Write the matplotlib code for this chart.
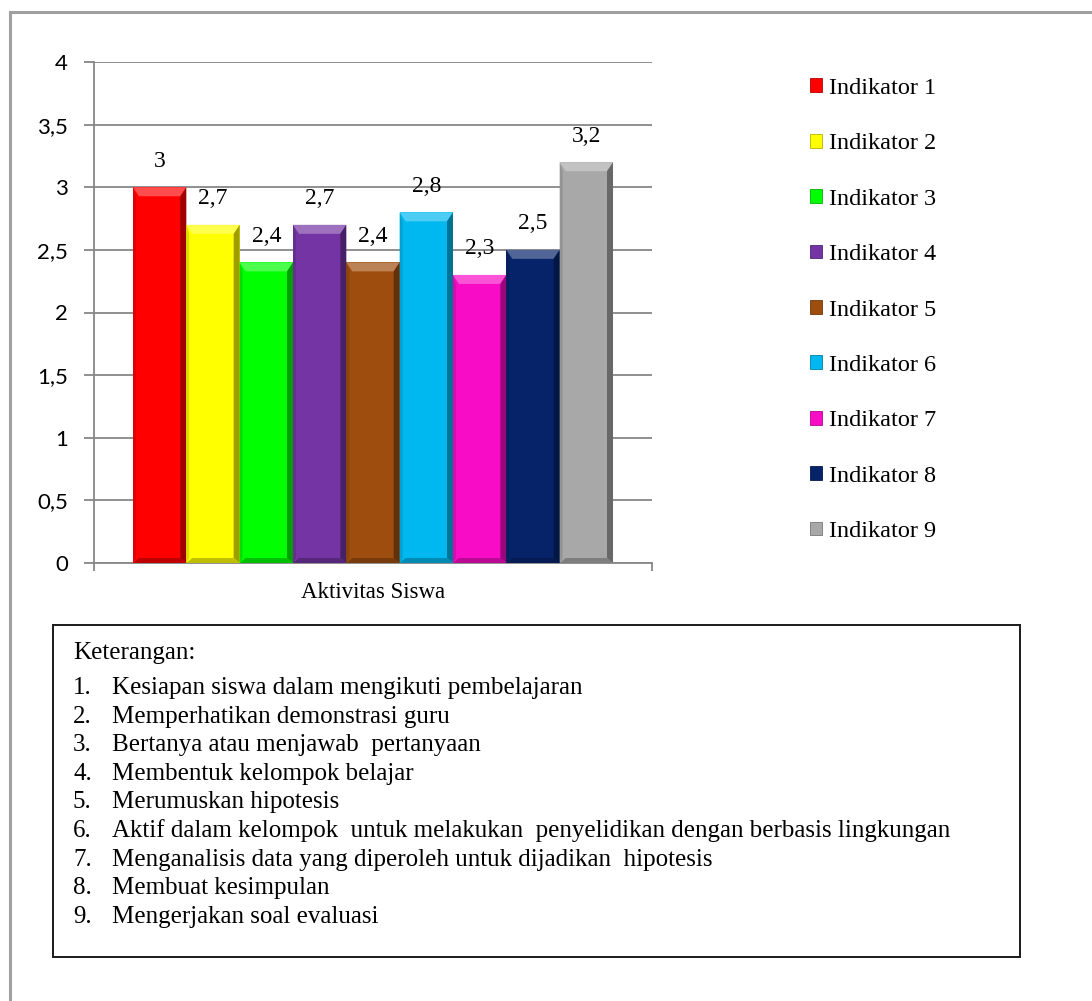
import matplotlib
matplotlib.use("Agg")
import matplotlib.pyplot as plt
from matplotlib.patches import Polygon, Rectangle
from matplotlib.lines import Line2D
from matplotlib.colors import to_rgb

# ---- data ----
indicators = ["Indikator 1", "Indikator 2", "Indikator 3", "Indikator 4", "Indikator 5",
              "Indikator 6", "Indikator 7", "Indikator 8", "Indikator 9"]
scores = [3.0, 2.7, 2.4, 2.7, 2.4, 2.8, 2.3, 2.5, 3.2]
colors = ["#FF0000", "#FFFF00", "#00FF00", "#7434A3", "#9E4D0E",
          "#00B8F0", "#F80CC6", "#06236A", "#A8A8A8"]
category = "Aktivitas Siswa"
yticks = [0, 0.5, 1, 1.5, 2, 2.5, 3, 3.5, 4]
ytick_labels = ["0", "0,5", "1", "1,5", "2", "2,5", "3", "3,5", "4"]
note_title = "Keterangan:"
notes = [
    "Kesiapan siswa dalam mengikuti pembelajaran",
    "Memperhatikan demonstrasi guru",
    "Bertanya atau menjawab  pertanyaan",
    "Membentuk kelompok belajar",
    "Merumuskan hipotesis",
    "Aktif dalam kelompok  untuk melakukan  penyelidikan dengan berbasis lingkungan",
    "Menganalisis data yang diperoleh untuk dijadikan  hipotesis",
    "Membuat kesimpulan",
    "Mengerjakan soal evaluasi",
]

W, H = 1092, 1001
SERIF = "Liberation Serif"
SANS = "Lato"
GRID = "#878787"

fig = plt.figure(figsize=(W / 100, H / 100), dpi=100)
fig.patch.set_facecolor("white")


def fx(px):
    return px / W


def fy(py):
    return 1 - py / H


# plot area
ax_l, ax_r, ax_t, ax_b = 94, 652, 62, 563
ax = fig.add_axes([fx(ax_l), fy(ax_b), fx(ax_r - ax_l), (ax_b - ax_t) / H])

n = len(scores)
xs = list(range(n))
margin = 0.731
ax.set_xlim(-0.5 - margin, n - 0.5 + margin)
ax.set_ylim(0, 4)

bars = ax.bar(xs, scores, width=1.0, color=colors, edgecolor="none", zorder=3)

# pixel size in data units, for the bevel shading
fig.canvas.draw()
bb = ax.get_window_extent()
x0, x1 = ax.get_xlim()
y0, y1 = ax.get_ylim()
px = (x1 - x0) / bb.width
py = (y1 - y0) / bb.height


def mix(c, other, f):
    r = to_rgb(c)
    o = to_rgb(other)
    return tuple(r[i] * (1 - f) + o[i] * f for i in range(3))


for rect, c in zip(bars, colors):
    left = rect.get_x()
    right = left + rect.get_width()
    h = rect.get_height()
    t = 9 * py
    s = 6 * px
    b = 5 * py
    # top bevel (lit)
    ax.add_patch(Polygon([(left, h), (right, h), (right - s, h - t), (left + s, h - t)],
                         closed=True, facecolor=mix(c, "white", 0.30), edgecolor="none", zorder=4))
    # right side (shaded)
    ax.add_patch(Polygon([(right, h), (right - s, h - t), (right - s, b), (right, 0)],
                         closed=True, facecolor=mix(c, "black", 0.38), edgecolor="none", zorder=4))
    # left side
    ax.add_patch(Polygon([(left, h), (left + 0.5 * s, h - t), (left + 0.5 * s, b), (left, 0)],
                         closed=True, facecolor=mix(c, "black", 0.12), edgecolor="none", zorder=4))
    # bottom edge
    ax.add_patch(Polygon([(left, 0), (right, 0), (right - s, b), (left + s, b)],
                         closed=True, facecolor=mix(c, "black", 0.25), edgecolor="none", zorder=4))

# value labels
for x, v in zip(xs, scores):
    txt = ("%g" % v).replace(".", ",")
    ax.annotate(txt, (x, v), xytext=(0, 26 * 0.72), textcoords="offset points",
                ha="center", va="center", fontsize=17, family=SERIF, zorder=6)

# axes styling
for side in ("top", "right"):
    ax.spines[side].set_visible(False)
for side in ("left", "bottom"):
    ax.spines[side].set_color(GRID)
    ax.spines[side].set_linewidth(1.3)
ax.set_yticks(yticks)
ax.set_yticklabels(ytick_labels, family=SANS, fontsize=16)
ax.tick_params(axis="y", length=7.2, width=1.3, color=GRID, pad=11.5)
ax.yaxis.grid(True, color=GRID, linewidth=1.3, zorder=0)
ax.set_axisbelow(True)

ax.set_xticks([(n - 1) / 2])
ax.set_xticklabels([category], family=SERIF, fontsize=16.5)
ax.tick_params(axis="x", which="major", length=0, pad=14)
ax.set_xticks([x0, x1], minor=True)
ax.tick_params(axis="x", which="minor", length=6, width=1.3, color=GRID)

# legend
handles = [Rectangle((0, 0), 1, 1, facecolor=c, edgecolor=mix(c, "black", 0.3), linewidth=0.6)
           for c in colors]
fig.legend(handles, indicators, loc="upper left",
           bbox_to_anchor=(fx(810), fy(78)), bbox_transform=fig.transFigure,
           frameon=False, prop={"family": SERIF, "size": 17.5},
           handlelength=0.5, handleheight=0.5, handletextpad=0.3,
           labelspacing=1.415, borderpad=0, borderaxespad=0)

# notes box
box_l, box_t, box_r, box_b = 53, 625, 1020, 957
fig.patches.append(Rectangle((fx(box_l), fy(box_b)), fx(box_r - box_l), (box_b - box_t) / H,
                             transform=fig.transFigure, facecolor="white",
                             edgecolor="#1a1a1a", linewidth=1.4, zorder=1))
fig.text(fx(73), fy(653), note_title, family=SERIF, fontsize=18, va="center", ha="left")
for i, line in enumerate(notes):
    yy = 688 + 28.6 * i
    fig.text(fx(73), fy(yy), "%d." % (i + 1), family=SERIF, fontsize=18, va="center", ha="left")
    fig.text(fx(112), fy(yy), line, family=SERIF, fontsize=18, va="center", ha="left")

# page frame
fig.add_artist(Line2D([fx(10), fx(10)], [fy(12), 0], transform=fig.transFigure,
                      color="#A0A0A0", linewidth=2.2))
fig.add_artist(Line2D([fx(10), 1], [fy(12), fy(12)], transform=fig.transFigure,
                      color="#A0A0A0", linewidth=2.2))

fig.savefig("out.png", dpi=100, facecolor="white")
